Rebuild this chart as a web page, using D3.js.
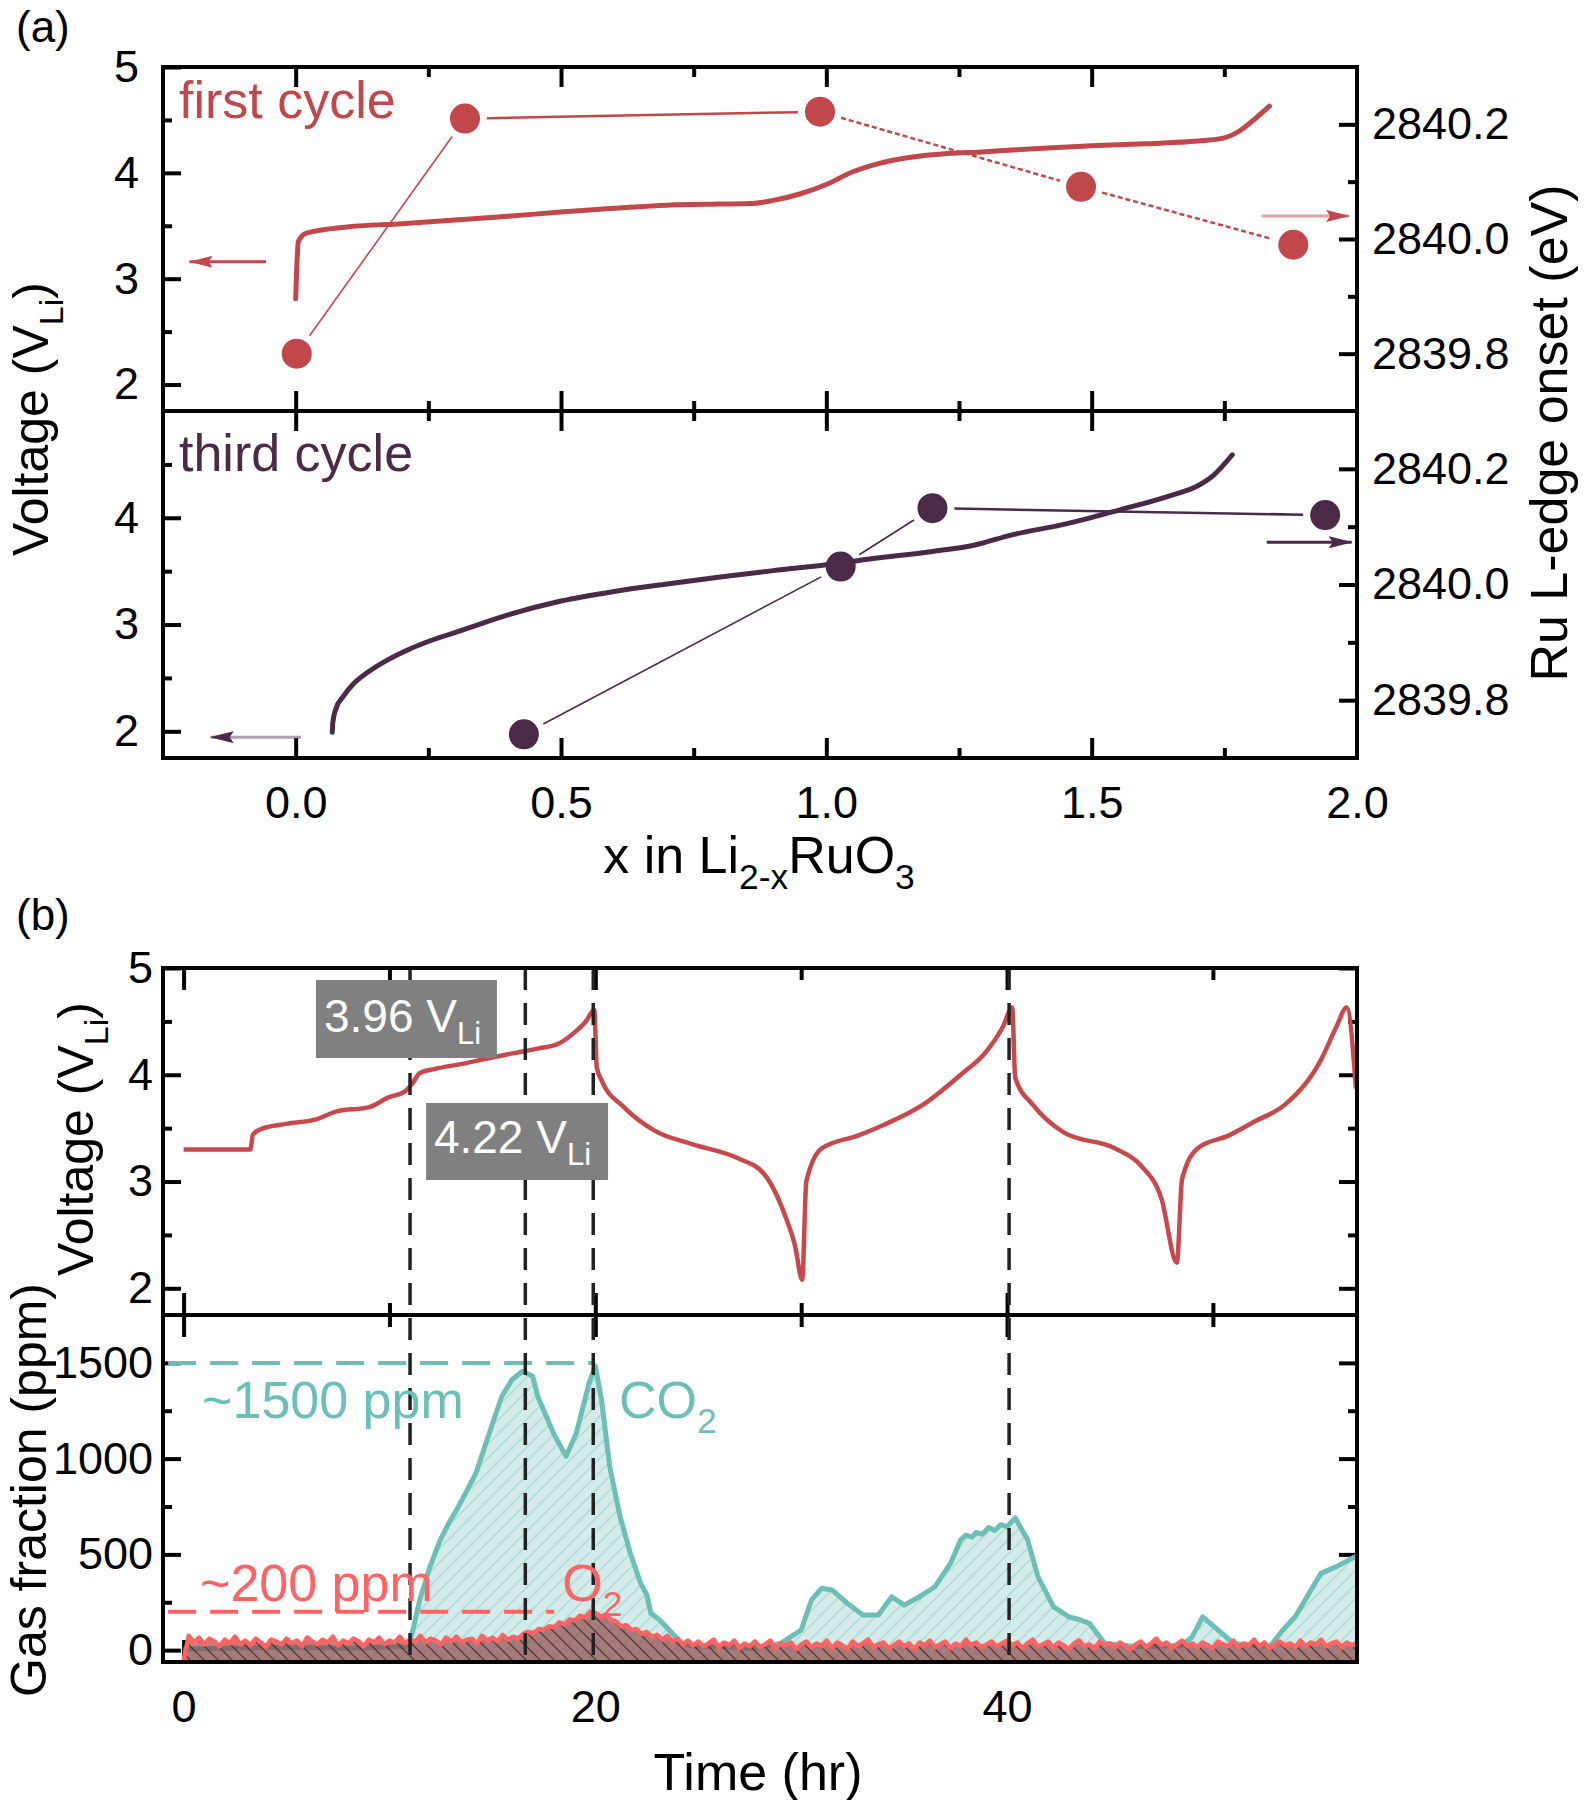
<!DOCTYPE html>
<html><head><meta charset="utf-8">
<script src="https://cdn.jsdelivr.net/npm/d3@7"></script>
<style>body{margin:0;background:#fff}</style>
</head><body>
<svg id="c" width="1588" height="1800"></svg>
<script>
// ---------------- DATA ----------------
// (a) first cycle voltage profile
const firstX = [0, 0.002, 0.005, 0.02, 0.1, 0.2, 0.3, 0.4, 0.5, 0.6, 0.7, 0.8, 0.86, 0.9, 0.95, 1.0, 1.05, 1.1, 1.15, 1.2, 1.3, 1.4, 1.5, 1.6, 1.7, 1.75, 1.78, 1.81, 1.835];
const firstV = [2.81, 3.1, 3.35, 3.43, 3.49, 3.52, 3.555, 3.59, 3.63, 3.665, 3.695, 3.705, 3.71, 3.74, 3.8, 3.89, 4.01, 4.09, 4.14, 4.17, 4.2, 4.23, 4.255, 4.275, 4.30, 4.33, 4.40, 4.52, 4.63];
// (a) first cycle Ru L-edge onset
const firstDotX = [0.002, 0.319, 0.988, 1.48, 1.88];
const firstDotE = [2839.80, 2840.21, 2840.222, 2840.091, 2839.99];
// (a) third cycle voltage profile
const thirdX = [0.069, 0.07, 0.075, 0.09, 0.11, 0.135, 0.17, 0.21, 0.26, 0.31, 0.4, 0.5, 0.6, 0.7, 0.8, 0.9, 1.0, 1.1, 1.2, 1.28, 1.35, 1.45, 1.55, 1.65, 1.7, 1.73, 1.765];
const thirdV = [1.99, 2.08, 2.2, 2.33, 2.45, 2.55, 2.66, 2.76, 2.86, 2.94, 3.09, 3.22, 3.31, 3.38, 3.445, 3.505, 3.56, 3.625, 3.685, 3.745, 3.84, 3.94, 4.07, 4.21, 4.30, 4.40, 4.59];
// (a) third cycle Ru L-edge onset
const thirdDotX = [0.43, 1.027, 1.2, 1.94];
const thirdDotE = [2839.741, 2840.031, 2840.132, 2840.12];

// (b) voltage vs time
const vTime = [0, 3.24, 3.37, 3.74, 4.99, 6.48, 7.48, 8.98, 9.98, 10.72, 11.1, 11.47, 12.22, 13.47, 14.7, 15.96, 17.2, 18.2, 18.95, 19.58, 19.95, 20.07, 20.3, 21.4, 22.9, 24.7, 26.9, 28.2, 29.2, 29.7, 30.05, 30.25, 31, 32.75, 34, 36, 37.75, 39, 39.8, 40.25, 40.4, 41.25, 42.75, 45.25, 46.5, 47.5, 48.25, 48.5, 49.25, 50.75, 52, 53.5, 55.25, 56.0, 56.5, 56.95];
const vVolt = [3.30, 3.30, 3.44, 3.49, 3.54, 3.585, 3.66, 3.695, 3.79, 3.84, 3.915, 4.015, 4.055, 4.10, 4.15, 4.20, 4.245, 4.29, 4.39, 4.51, 4.61, 4.07, 3.95, 3.695, 3.475, 3.35, 3.22, 3.07, 2.69, 2.4, 2.08, 3.0, 3.31, 3.43, 3.53, 3.73, 4.0, 4.22, 4.45, 4.63, 3.97, 3.72, 3.46, 3.31, 3.15, 2.84, 2.24, 3.02, 3.31, 3.43, 3.56, 3.72, 4.14, 4.45, 4.63, 3.87];

// (b) CO2 gas fraction
const co2Time = [0, 2, 5, 8, 10.9, 11.1, 11.47, 11.97, 12.47, 12.97, 13.3, 13.7, 14.2, 14.96, 15.46, 15.96, 16.46, 16.96, 17.2, 17.96, 18.58, 19.08, 19.7, 20, 20.3, 20.7, 21.2, 21.7, 22.2, 22.5, 22.7, 23.1, 23.44, 24.2, 24.9, 26, 27.5, 29, 30, 30.5, 31, 31.5, 32.25, 33, 33.75, 34.4, 35, 35.75, 36.5, 37.25, 37.75, 38.0, 38.3, 38.5, 38.8, 39.1, 39.4, 39.7, 40.0, 40.4, 41, 41.5, 42.25, 43, 43.5, 44, 44.75, 46.5, 48.5, 49, 49.5, 50.25, 51, 52.75, 53.4, 54, 55.25, 56, 56.9, 57];
const co2Ppm = [5, 10, 15, 10, 20, 87, 262, 436, 576, 680, 740, 820, 924, 1169, 1326, 1413, 1456, 1430, 1326, 1134, 1012, 1134, 1395, 1483, 1308, 959, 698, 506, 349, 290, 192, 160, 122, 35, 17, 20, 10, 35, 105, 262, 323, 314, 244, 183, 183, 279, 235, 279, 331, 453, 576, 600, 590, 615, 605, 640, 625, 655, 645, 690, 576, 384, 227, 174, 160, 140, 35, 17, 26, 70, 174, 105, 35, 17, 105, 174, 401, 436, 488, 480];

// (b) O2 gas fraction
const o2Time = [0, 0.25, 0.5, 0.75, 1, 1.25, 1.5, 1.75, 2, 2.25, 2.5, 2.75, 3, 3.25, 3.5, 3.75, 4, 4.25, 4.5, 4.75,
  5, 5.25, 5.5, 5.75, 6, 6.25, 6.5, 6.75, 7, 7.25, 7.5, 7.75, 8, 8.25, 8.5, 8.75, 9, 9.25, 9.5, 9.75,
  10, 10.25, 10.5, 10.75, 11, 11.25, 11.5, 11.75, 12, 12.25, 12.5, 12.75, 13, 13.25, 13.5, 13.75, 14, 14.25, 14.5, 14.75,
  15, 15.25, 15.5, 15.75, 16, 16.25, 16.5, 16.75, 17, 17.25, 17.5, 17.75, 18, 18.25, 18.5, 18.75, 19, 19.25, 19.5, 19.75,
  20, 20.25, 20.5, 20.75, 21, 21.25, 21.5, 21.75, 22, 22.25, 22.5, 22.75, 23, 23.25, 23.5, 23.75, 24, 24.25, 24.5, 24.75,
  25, 25.25, 25.5, 25.75, 26, 26.25, 26.5, 26.75, 27, 27.25, 27.5, 27.75, 28, 28.25, 28.5, 28.75, 29, 29.25, 29.5, 29.75,
  30, 30.25, 30.5, 30.75, 31, 31.25, 31.5, 31.75, 32, 32.25, 32.5, 32.75, 33, 33.25, 33.5, 33.75, 34, 34.25, 34.5, 34.75,
  35, 35.25, 35.5, 35.75, 36, 36.25, 36.5, 36.75, 37, 37.25, 37.5, 37.75, 38, 38.25, 38.5, 38.75, 39, 39.25, 39.5, 39.75,
  40, 40.25, 40.5, 40.75, 41, 41.25, 41.5, 41.75, 42, 42.25, 42.5, 42.75, 43, 43.25, 43.5, 43.75, 44, 44.25, 44.5, 44.75,
  45, 45.25, 45.5, 45.75, 46, 46.25, 46.5, 46.75, 47, 47.25, 47.5, 47.75, 48, 48.25, 48.5, 48.75, 49, 49.25, 49.5, 49.75,
  50, 50.25, 50.5, 50.75, 51, 51.25, 51.5, 51.75, 52, 52.25, 52.5, 52.75, 53, 53.25, 53.5, 53.75, 54, 54.25, 54.5, 54.75,
  55, 55.25, 55.5, 55.75, 56, 56.25, 56.5, 56.75, 57];
const o2Ppm = [-55, 75, 40, 65, 30, 60, 45, 20, 55, 35, 70, 30, 50, 25, 60, 40, 15, 55, 45, 30,
  60, 35, 50, 20, 65, 45, 30, 55, 40, 70, 25, 50, 35, 60, 45, 20, 55, 40, 65, 30,
  50, 40, 70, 35, 55, 45, 75, 40, 60, 50, 30, 65, 45, 70, 40, 55, 60, 35, 75, 50,
  65, 45, 80, 55, 70, 60, 85, 95, 90, 110, 105, 125, 120, 145, 135, 160, 155, 180, 170, 200,
  195, 175, 185, 160, 150, 125, 130, 105, 110, 85, 95, 70, 80, 55, 75, 45, 60, 30, 50, 25,
  45, 20, 35, 55, 15, 40, 25, 50, 10, 35, 20, 45, 15, 30, 50, 10, 35, 25, 40, 5,
  30, 45, 15, 35, 20, 50, 10, 40, 25, 5, 45, 20, 35, 55, 15, 30, 40, 10, 25, 45,
  20, 35, 5, 40, 25, 50, 15, 30, 45, 10, 35, 20, 55, 25, 40, 15, 30, 45, 20, 35,
  50, 25, 40, 10, 35, 55, 20, 30, 45, 15, 40, 25, 5, 35, 50, 20, 30, 10, 45, 25,
  35, 15, 40, 20, 5, 30, 45, 15, 35, 60, 25, 40, 10, 30, 50, 20, 35, 15, 40, 25,
  10, 45, 30, 20, 50, 15, 35, 25, 55, 20, 40, 10, 30, 45, 25, 35, 15, 50, 20, 40,
  30, 55, 20, 35, 45, 15, 40, 25, 35];

// markers of interest (hr)
const markerTimes = [11.0, 16.6, 19.9, 40.1];
// tick values
const xaMajor = [0, 0.5, 1.0, 1.5, 2.0], xaMinor = [0.25, 0.75, 1.25, 1.75];
const vMajor = [2, 3, 4, 5], vMinor = [2.5, 3.5, 4.5];
const eMajor = [2839.8, 2840.0, 2840.2], eMinor = [2839.9, 2840.1];
const tMajor = [0, 20, 40], tMinor = [10, 30, 50];
const gMajor = [0, 500, 1000, 1500], gMinor = [250, 750, 1250];

// ---------------- LAYOUT ----------------
const FONT = '"Liberation Sans", Arial, Helvetica, sans-serif';
const L = 163, R = 1357;
const A = {top: 67, mid: 411, bot: 758};
const B = {top: 968, mid: 1315, bot: 1662};
const C1 = "#c2474a", C3 = "#4b2a47", CV = "#c8494b", CT = "#6cbfb6", CO = "#ff6363";

const svg = d3.select("#c");
const defs = svg.append("defs");

const xa = d3.scaleLinear([-0.25, 2.0], [L, R]);
const ya1 = d3.scaleLinear([1.75, 5], [A.mid, A.top]);
const ea1 = d3.scaleLinear([2839.7, 2840.3], [A.mid, A.top]);
const ya2 = d3.scaleLinear([1.75, 5], [A.bot, A.mid]);
const ea2 = d3.scaleLinear([2839.7, 2840.3], [A.bot, A.mid]);
const xb = d3.scaleLinear([-1, 57], [L, R]);
const yb1 = d3.scaleLinear([1.75, 5], [B.mid, B.top]);
const yb2 = d3.scaleLinear([-62, 1750], [B.bot, B.mid]);

// patterns
const pc = defs.append("pattern").attr("id", "hCO2").attr("patternUnits", "userSpaceOnUse").attr("width", 14).attr("height", 14);
pc.append("rect").attr("width", 14).attr("height", 14).attr("fill", "#d3ecea");
pc.append("path").attr("d", "M-2,16 L16,-2 M-2,2 L2,-2 M12,16 L16,12").attr("stroke", "#b0dbd6").attr("stroke-width", 1.5);
const po = defs.append("pattern").attr("id", "hO2").attr("patternUnits", "userSpaceOnUse").attr("width", 14).attr("height", 14);
po.append("rect").attr("width", 14).attr("height", 14).attr("fill", "#8a4040").attr("fill-opacity", 0.65);
po.append("path").attr("d", "M-2,-2 L16,16 M12,-2 L16,2 M-2,12 L2,16").attr("stroke", "#4a1c1c").attr("stroke-opacity", 0.7).attr("stroke-width", 1.5);

function clip(id, y0, y1) {
  defs.append("clipPath").attr("id", id).append("rect").attr("x", L).attr("y", y0).attr("width", R - L).attr("height", y1 - y0);
}
clip("cA1", A.top, A.mid); clip("cA2", A.mid, A.bot); clip("cB1", B.top, B.mid); clip("cB2", B.mid, B.bot);

function arrowMarker(id, color) {
  defs.append("marker").attr("id", id).attr("viewBox", "0 0 24 12").attr("refX", 23).attr("refY", 6)
    .attr("markerWidth", 24).attr("markerHeight", 12).attr("markerUnits", "userSpaceOnUse").attr("orient", "auto")
    .append("path").attr("d", "M0,0 L24,6 L0,12 L4,6 z").attr("fill", color);
}
arrowMarker("arR", C1); arrowMarker("arP", C3);

// axes helper
function axis(gen, scale, values, size, pad, fmt, tx, ty) {
  const a = gen(scale).tickValues(values).tickSize(-size).tickPadding(pad).tickFormat(fmt || (() => ""));
  const g = svg.append("g").attr("transform", `translate(${tx},${ty})`).call(a);
  g.select(".domain").remove();
  g.selectAll(".tick line").attr("stroke", "#000").attr("stroke-width", 4);
  g.selectAll(".tick text").attr("font-size", 45).attr("font-family", FONT).attr("fill", "#000");
  return g;
}
const f1 = d3.format(".1f"), f0 = d3.format("d");

// ---- panel (a) axes ----
axis(d3.axisTop, xa, xaMajor.slice(0, 4), 20, 0, null, 0, A.top);
axis(d3.axisTop, xa, xaMinor, 10, 0, null, 0, A.top);
axis(d3.axisBottom, xa, xaMajor.slice(0, 4), 20, 0, null, 0, A.mid);
axis(d3.axisBottom, xa, xaMinor, 10, 0, null, 0, A.mid);
axis(d3.axisTop, xa, xaMajor.slice(0, 4), 20, 0, null, 0, A.mid);
axis(d3.axisTop, xa, xaMinor, 10, 0, null, 0, A.mid);
axis(d3.axisBottom, xa, xaMajor, 20, 28, f1, 0, A.bot).selectAll(".tick line").filter(d => d === 2.0).remove();
axis(d3.axisBottom, xa, xaMinor, 10, 0, null, 0, A.bot);
axis(d3.axisLeft, ya1, vMajor, 18, 24, f0, L, 0);
axis(d3.axisLeft, ya1, vMinor, 9, 0, null, L, 0);
axis(d3.axisLeft, ya2, vMajor.slice(0, 3), 18, 24, f0, L, 0);
axis(d3.axisLeft, ya2, vMinor, 9, 0, null, L, 0);
axis(d3.axisRight, ea1, eMajor, 18, 15, f1, R, 0);
axis(d3.axisRight, ea1, eMinor, 9, 0, null, R, 0);
axis(d3.axisRight, ea2, eMajor, 18, 15, f1, R, 0);
axis(d3.axisRight, ea2, eMinor, 9, 0, null, R, 0);

// ---- panel (a) data ----
const lineF = (xs, ys) => d3.line().x(d => xs(d[0])).y(d => ys(d[1])).curve(d3.curveMonotoneX);

function dotLinks(g, xs, es, sx, sy, color, styles) {
  for (let i = 0; i < xs.length - 1; i++) {
    const x0 = sx(xs[i]), y0 = sy(es[i]), x1 = sx(xs[i + 1]), y1 = sy(es[i + 1]);
    const len = Math.hypot(x1 - x0, y1 - y0), ux = (x1 - x0) / len, uy = (y1 - y0) / len, off = 22;
    g.append("line").attr("x1", x0 + ux * off).attr("y1", y0 + uy * off).attr("x2", x1 - ux * off).attr("y2", y1 - uy * off)
      .attr("stroke", color).attr("stroke-width", styles[i].w).attr("stroke-dasharray", styles[i].dash);
  }
  xs.forEach((x, i) => g.append("circle").attr("cx", sx(x)).attr("cy", sy(es[i])).attr("r", 15).attr("fill", color));
}

const ga1 = svg.append("g").attr("clip-path", "url(#cA1)");
ga1.append("path").datum(d3.zip(firstX, firstV)).attr("d", lineF(xa, ya1)).attr("fill", "none").attr("stroke", C1).attr("stroke-width", 5).attr("stroke-linecap", "round");
dotLinks(ga1, firstDotX, firstDotE, xa, ea1, C1, [{w: 1.6, dash: null}, {w: 2.5, dash: null}, {w: 2.5, dash: "5,3"}, {w: 2.5, dash: "5,3"}]);

const ga2 = svg.append("g").attr("clip-path", "url(#cA2)");
ga2.append("path").datum(d3.zip(thirdX, thirdV)).attr("d", lineF(xa, ya2)).attr("fill", "none").attr("stroke", C3).attr("stroke-width", 5).attr("stroke-linecap", "round");
dotLinks(ga2, thirdDotX, thirdDotE, xa, ea2, C3, [{w: 1.6, dash: null}, {w: 1.6, dash: null}, {w: 2.5, dash: null}]);

// axis-pointer arrows (data coords)
function arrow(x0, x1, y, sx, sy, color, mk, op) {
  svg.append("line").attr("x1", sx(x0)).attr("x2", sx(x1)).attr("y1", sy(y)).attr("y2", sy(y))
    .attr("stroke", color).attr("stroke-opacity", op).attr("stroke-width", 3).attr("marker-end", `url(#${mk})`);
}
arrow(-0.056, -0.2, 3.16, xa, ya1, C1, "arR", 1);
arrow(1.82, 1.985, 2840.04, xa, ea1, C1, "arR", 0.5);
arrow(0.01, -0.16, 1.945, xa, ya2, C3, "arP", 0.45);
arrow(1.83, 1.99, 2840.073, xa, ea2, C3, "arP", 1);

svg.append("text").attr("x", 179).attr("y", 118).attr("font-size", 52).attr("font-family", FONT).attr("fill", C1).text("first cycle");
svg.append("text").attr("x", 179).attr("y", 471).attr("font-size", 52).attr("font-family", FONT).attr("fill", C3).text("third cycle");

// frames (a)
[[A.top, A.mid], [A.mid, A.bot]].forEach(([a, b]) => svg.append("rect").attr("x", L).attr("y", a).attr("width", R - L).attr("height", b - a).attr("fill", "none").attr("stroke", "#000").attr("stroke-width", 4));

// ---- panel (b) axes ----
axis(d3.axisTop, xb, tMajor, 22, 0, null, 0, B.top);
axis(d3.axisTop, xb, tMinor, 12, 0, null, 0, B.top);
axis(d3.axisBottom, xb, tMajor, 22, 0, null, 0, B.mid);
axis(d3.axisBottom, xb, tMinor, 12, 0, null, 0, B.mid);
axis(d3.axisTop, xb, tMajor, 22, 0, null, 0, B.mid);
axis(d3.axisTop, xb, tMinor, 12, 0, null, 0, B.mid);
axis(d3.axisBottom, xb, tMajor, 22, 28, f0, 0, B.bot);
axis(d3.axisBottom, xb, tMinor, 12, 0, null, 0, B.bot);
axis(d3.axisLeft, yb1, vMajor, 18, 10, f0, L, 0);
axis(d3.axisLeft, yb1, vMinor, 9, 0, null, L, 0);
axis(d3.axisRight, yb1, vMajor, 18, 0, null, R, 0);
axis(d3.axisRight, yb1, vMinor, 9, 0, null, R, 0);
axis(d3.axisLeft, yb2, gMajor, 18, 10, f0, L, 0);
axis(d3.axisLeft, yb2, gMinor, 9, 0, null, L, 0);
axis(d3.axisRight, yb2, gMajor, 18, 0, null, R, 0);
axis(d3.axisRight, yb2, gMinor, 9, 0, null, R, 0);

// ---- panel (b) data ----
const gb1 = svg.append("g").attr("clip-path", "url(#cB1)");
gb1.append("path").datum(d3.zip(vTime, vVolt)).attr("d", lineF(xb, yb1)).attr("fill", "none").attr("stroke", CV).attr("stroke-width", 4.5).attr("stroke-linejoin", "round");

const gb2 = svg.append("g").attr("clip-path", "url(#cB2)");
const areaF = d3.area().x(d => xb(d[0])).y0(yb2(-62)).y1(d => yb2(d[1]));
const lineG = d3.line().x(d => xb(d[0])).y(d => yb2(d[1]));
const co2 = d3.zip(co2Time, co2Ppm), o2 = d3.zip(o2Time, o2Ppm);
gb2.append("path").datum(co2).attr("d", areaF).attr("fill", "url(#hCO2)");
gb2.append("path").datum(co2).attr("d", lineG).attr("fill", "none").attr("stroke", CT).attr("stroke-width", 5).attr("stroke-linejoin", "round");
gb2.append("path").datum(o2).attr("d", areaF).attr("fill", "url(#hO2)");
gb2.append("path").datum(o2).attr("d", lineG).attr("fill", "none").attr("stroke", CO).attr("stroke-width", 4.5).attr("stroke-linejoin", "round");

// reference dashed levels
svg.append("line").attr("x1", xb(-0.75)).attr("x2", xb(20)).attr("y1", yb2(1500)).attr("y2", yb2(1500)).attr("stroke", CT).attr("stroke-width", 4).attr("stroke-dasharray", "28,14");
svg.append("line").attr("x1", xb(-0.75)).attr("x2", xb(18)).attr("y1", yb2(200)).attr("y2", yb2(200)).attr("stroke", CO).attr("stroke-width", 4).attr("stroke-dasharray", "28,14");

// vertical dashed markers
markerTimes.forEach(t => svg.append("line").attr("x1", xb(t)).attr("x2", xb(t)).attr("y1", B.top).attr("y2", B.bot)
  .attr("stroke", "#222").attr("stroke-width", 3.5).attr("stroke-dasharray", "22,13"));

// gray value boxes
function vbox(t0, t1, v0, v1, tt, vt, label) {
  svg.append("rect").attr("x", xb(t0)).attr("y", yb1(v0)).attr("width", xb(t1) - xb(t0)).attr("height", yb1(v1) - yb1(v0)).attr("fill", "#808080");
  const tx = svg.append("text").attr("x", xb(tt)).attr("y", yb1(vt)).attr("font-size", 46).attr("font-family", FONT).attr("fill", "#fff");
  tx.append("tspan").text(label + " V");
  tx.append("tspan").attr("font-size", 31).attr("dy", 12).text("Li");
}
vbox(6.43, 15.22, 4.888, 4.157, 6.82, 4.40, "3.96");
vbox(11.78, 20.62, 3.736, 3.014, 12.16, 3.267, "4.22");

function subText(x, y, parts, size, color, extra) {
  const t = svg.append("text").attr("x", x).attr("y", y).attr("font-size", size).attr("font-family", FONT).attr("fill", color);
  if (extra) extra(t);
  parts.forEach(p => {
    const s = t.append("tspan").text(p[0]);
    if (p[1] === "sub") s.attr("font-size", size * 0.68).attr("dy", size * 0.3);
    else if (p[1] === "back") s.attr("dy", -size * 0.3);
  });
  return t;
}
subText(xb(0.9), yb2(1500) + 55, [["~1500 ppm"]], 52, CT);
subText(xb(21.15), yb2(1500) + 55, [["CO"], ["2", "sub"]], 52, CT);
subText(xb(0.8), yb2(200) - 11, [["~200 ppm"]], 52, CO);
subText(xb(18.4), yb2(200) - 11, [["O"], ["2", "sub"]], 52, CO);

// frames (b)
[[B.top, B.mid], [B.mid, B.bot]].forEach(([a, b]) => svg.append("rect").attr("x", L).attr("y", a).attr("width", R - L).attr("height", b - a).attr("fill", "none").attr("stroke", "#000").attr("stroke-width", 4));

// ---- titles ----
svg.append("text").attr("x", 16).attr("y", 42).attr("font-size", 44).attr("font-family", FONT).text("(a)");
svg.append("text").attr("x", 16).attr("y", 930).attr("font-size", 44).attr("font-family", FONT).text("(b)");

const rot = (x, y) => t => t.attr("transform", `translate(${x},${y}) rotate(-90)`).attr("x", 0).attr("y", 0).attr("text-anchor", "middle");
subText(0, 0, [["Voltage (V"], ["Li", "sub"], [")", "back"]], 50, "#000", rot(48, 419));
subText(0, 0, [["Ru L-edge onset (eV)"]], 52, "#000", rot(1567, 433));
subText(0, 0, [["Voltage (V"], ["Li", "sub"], [")", "back"]], 50, "#000", rot(93, 1139));
subText(0, 0, [["Gas fraction (ppm)"]], 50, "#000", rot(46, 1490));
subText(759, 873, [["x in Li"], ["2-x", "sub"], ["RuO", "back"], ["3", "sub"]], 52, "#000", t => t.attr("text-anchor", "middle"));
subText(758, 1790, [["Time (hr)"]], 52, "#000", t => t.attr("text-anchor", "middle"));
</script></body></html>
